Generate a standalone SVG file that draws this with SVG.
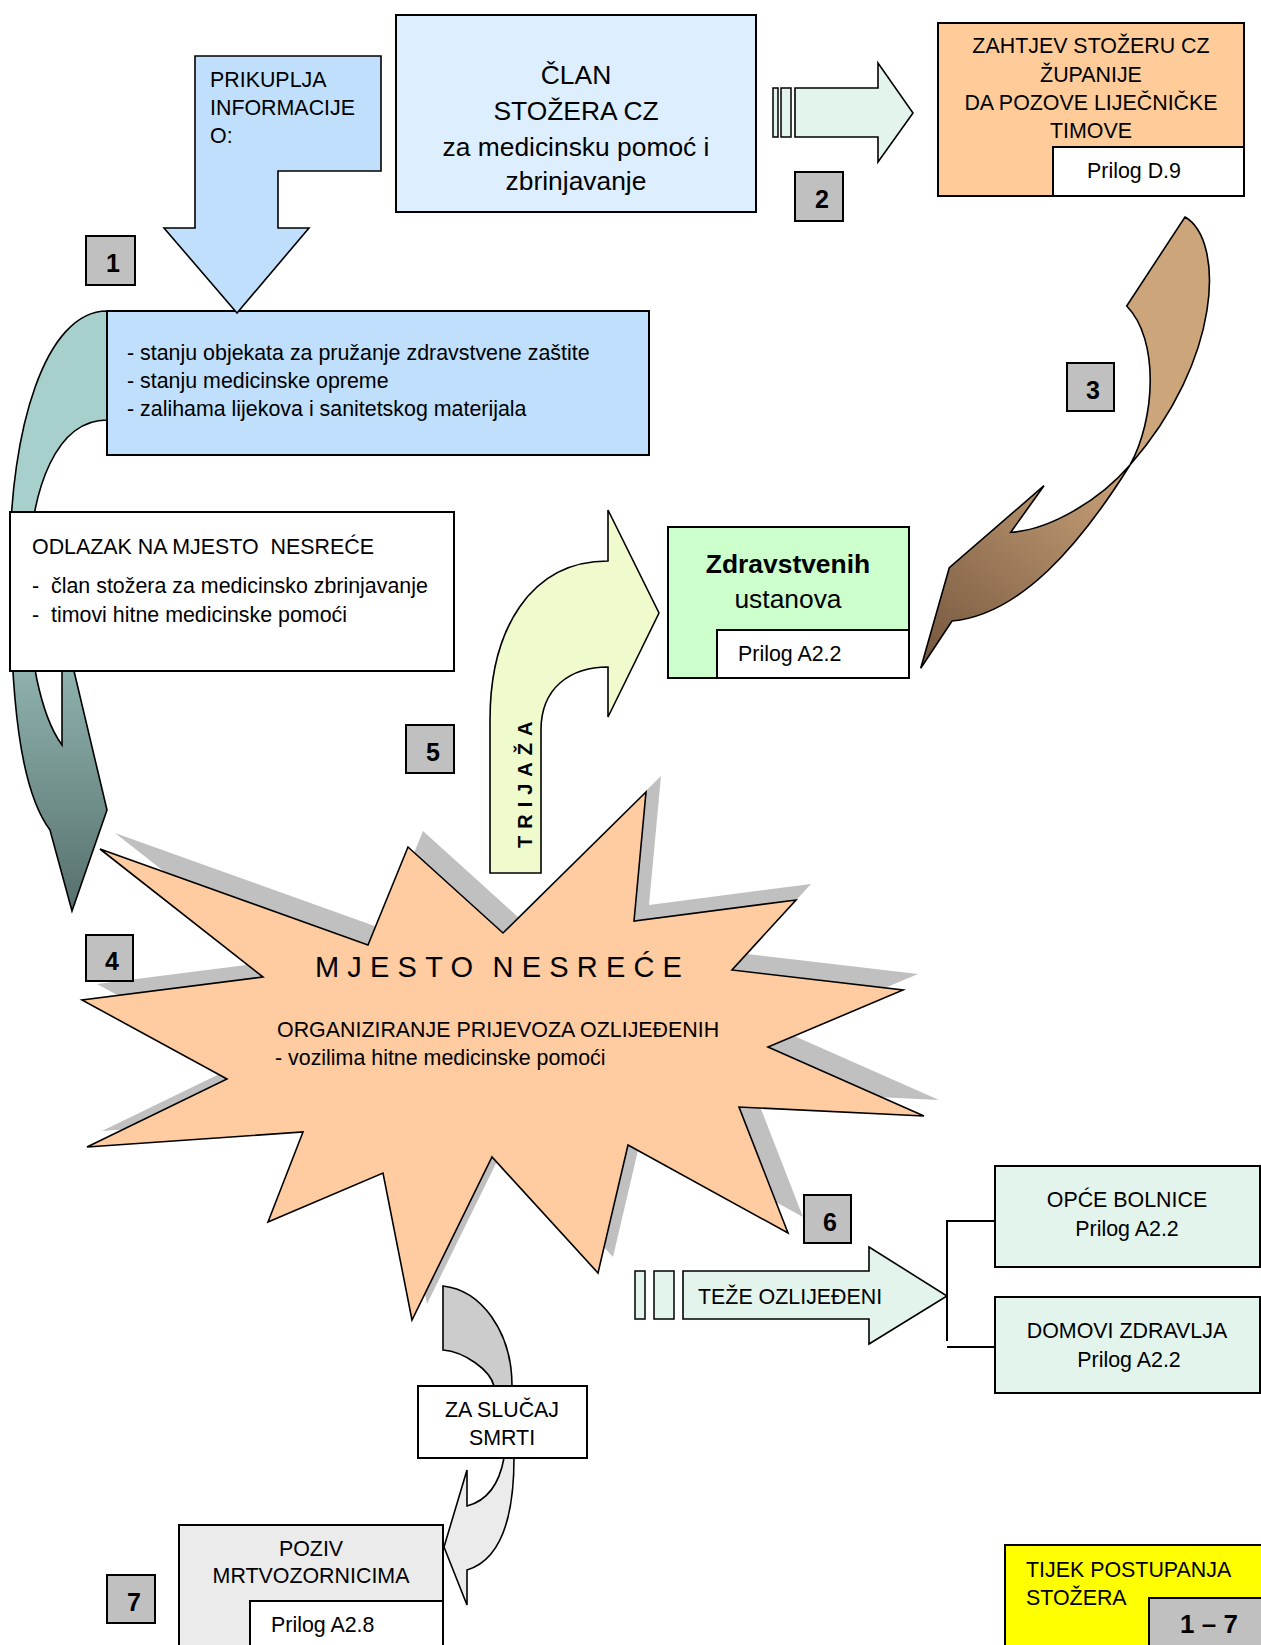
<svg xmlns="http://www.w3.org/2000/svg" width="1261" height="1645" viewBox="0 0 1261 1645">
<style>
text{font-family:"Liberation Sans",Arial,sans-serif;font-size:21.4px;fill:#000}
.c{text-anchor:middle}
.b{font-weight:bold}
.big{font-size:26.4px}
.num{font-weight:bold;font-size:25px;text-anchor:middle}
.bx{stroke:#000;stroke-width:2}
.sh{stroke:#000;stroke-width:1.6;stroke-linejoin:miter}
.nb{fill:#C0C0C0;stroke:#000;stroke-width:2}
.wb{fill:#FFFFFF;stroke:#000;stroke-width:2}
</style>
<defs>
<linearGradient id="teal" x1="0" y1="0" x2="0" y2="1">
<stop offset="0" stop-color="#A7CFCB"/>
<stop offset="0.42" stop-color="#A7CFCB"/>
<stop offset="1" stop-color="#56706C"/>
</linearGradient>
<linearGradient id="brown" gradientUnits="userSpaceOnUse" x1="1110" y1="440" x2="930" y2="665">
<stop offset="0" stop-color="#CDA57B"/>
<stop offset="1" stop-color="#76583F"/>
</linearGradient>
<linearGradient id="grayg" gradientUnits="userSpaceOnUse" x1="0" y1="1386" x2="0" y2="1458">
<stop offset="0" stop-color="#CCCCCC"/>
<stop offset="1" stop-color="#EBEBEB"/>
</linearGradient>
<polygon id="starpts" points="100,849 368,945 408,847 503,933 646,792 634,921 796,900 732,970 903,990 768,1047 924,1116 739,1107 788,1233 628,1145 598,1273 492,1157 412,1320 383,1173 268,1222 303,1132 87,1147 227,1079 82,1000 263,977"/>
</defs>

<g id="node-mjesto">
<use href="#starpts" transform="translate(15,-16)" fill="#C0C0C0"/>
<use href="#starpts" fill="#FFCBA0" stroke="#000" stroke-width="1.6"/>
<text x="315" y="977" style="font-size:29px" letter-spacing="8.2" word-spacing="-5">MJESTO NESREĆE</text>
<text x="277" y="1037">ORGANIZIRANJE PRIJEVOZA OZLIJEĐENIH</text>
<text x="275" y="1065">- vozilima hitne medicinske pomoći</text>
</g>

<g id="connectors">
<path id="conn-teal" class="sh" fill="url(#teal)" d="M107,311 C45,311 10,430 10,560 C10,700 20,790 50,830 L72,911 L107,810 L74,671 L70,640 L62,640 L62,745 C40,715 28,650 28,590 C28,480 60,420 107,420 Z"/>
<path id="conn-brown" class="sh" fill="url(#brown)" d="M1126.7,306 L1185,217 C1225,240 1222,360 1130,465 C1080,545 1020,615 952,621 L920.7,668.3 L949.3,567.7 L1044,485.7 L1010.7,532.3 C1050,530 1100,500 1130,465 C1155,420 1160,340 1126.7,306 Z"/>
<g id="conn-2">
<rect x="773" y="88" width="5" height="49" fill="#E3F4EC" stroke="#000" stroke-width="1.5"/>
<rect x="781" y="88" width="10" height="49" fill="#E3F4EC" stroke="#000" stroke-width="1.5"/>
<path class="sh" fill="#E3F4EC" d="M795,88 L878,88 L878,63 L913,113 L878,162 L878,137 L795,137 Z"/>
</g>
<g id="conn-trijaza">
<path class="sh" fill="#EFFBCC" d="M490,873 L490,720 C490,630 530,561 608,561 L608,510 L659,613 L608,717 L608,667 C570,667 541,688 541,730 L541,873 Z"/>
<text class="b" transform="translate(532,848) rotate(-90)" style="font-size:20px" letter-spacing="7">TRIJAŽA</text>
</g>
<g id="conn-teze">
<rect x="635" y="1271" width="10" height="48" fill="#E3F4EC" stroke="#000" stroke-width="1.5"/>
<rect x="654" y="1271" width="20" height="48" fill="#E3F4EC" stroke="#000" stroke-width="1.5"/>
<path class="sh" fill="#E3F4EC" d="M683,1271 L869,1271 L869,1247 L947,1296 L869,1344 L869,1319 L683,1319 Z"/>
<text x="698" y="1304">TEŽE OZLIJEĐENI</text>
</g>
<path id="conn-bracket" fill="none" stroke="#000" stroke-width="2" d="M995,1221 H947 V1341 M947,1347 H995"/>
<path id="conn-gray" class="sh" fill="url(#grayg)" d="M443,1286 C480,1290 512,1330 512,1386 L514,1458 C514,1520 500,1560 467,1570 L467,1605 L444,1547 L467,1470 L467,1506 C490,1500 500,1480 504,1458 L494,1386 C490,1370 465,1352 443,1350 Z"/>
</g>

<g id="node-info">
<rect class="bx" x="107" y="311" width="542" height="144" fill="#BFDFFD"/>
<text x="127" y="360">- stanju objekata za pružanje zdravstvene zaštite</text>
<text x="127" y="388">- stanju medicinske opreme</text>
<text x="127" y="416">- zalihama lijekova i sanitetskog materijala</text>
</g>

<g id="node-prikuplja">
<path class="sh" fill="#BFDFFD" d="M195,56 L381,56 L381,171 L278,171 L278,228 L309,228 L237,313 L164,228 L195,228 Z"/>
<text x="210" y="87">PRIKUPLJA</text>
<text x="210" y="115">INFORMACIJE</text>
<text x="210" y="143">O:</text>
</g>

<g id="node-clan">
<rect class="bx" x="396" y="15" width="360" height="197" fill="#DDEEFE"/>
<text class="c big" x="576" y="84">ČLAN</text>
<text class="c big" x="576" y="120">STOŽERA CZ</text>
<text class="c big" x="576" y="156">za medicinsku pomoć i</text>
<text class="c big" x="576" y="190">zbrinjavanje</text>
</g>

<g id="node-zahtjev">
<rect class="bx" x="938" y="23" width="306" height="173" fill="#FFCC99"/>
<rect class="wb" x="1053" y="147" width="191" height="49"/>
<text class="c" x="1091" y="53">ZAHTJEV STOŽERU CZ</text>
<text class="c" x="1091" y="82">ŽUPANIJE</text>
<text class="c" x="1091" y="110">DA POZOVE LIJEČNIČKE</text>
<text class="c" x="1091" y="138">TIMOVE</text>
<text x="1087" y="178">Prilog D.9</text>
</g>

<g id="node-odlazak">
<rect class="bx" x="10" y="512" width="444" height="159" fill="#FFFFFF"/>
<text x="32" y="554" xml:space="preserve">ODLAZAK NA MJESTO  NESREĆE</text>
<text x="32" y="593" xml:space="preserve">-  član stožera za medicinsko zbrinjavanje</text>
<text x="32" y="622" xml:space="preserve">-  timovi hitne medicinske pomoći</text>
</g>

<g id="node-zdravstvenih">
<rect class="bx" x="668" y="527" width="241" height="151" fill="#CCFFCC"/>
<rect class="wb" x="717" y="630" width="192" height="48"/>
<text class="c b big" x="788" y="573">Zdravstvenih</text>
<text class="c big" x="788" y="608">ustanova</text>
<text x="738" y="661">Prilog A2.2</text>
</g>

<g id="node-opce">
<rect class="bx" x="995" y="1166" width="265" height="101" fill="#E3F4EC"/>
<text class="c" x="1127" y="1207">OPĆE BOLNICE</text>
<text class="c" x="1127" y="1236">Prilog A2.2</text>
</g>

<g id="node-domovi">
<rect class="bx" x="995" y="1297" width="265" height="96" fill="#E3F4EC"/>
<text class="c" x="1127" y="1338">DOMOVI ZDRAVLJA</text>
<text class="c" x="1129" y="1367">Prilog A2.2</text>
</g>

<g id="node-zaslucaj">
<rect class="bx" x="418" y="1386" width="169" height="72" fill="#FFFFFF"/>
<text class="c" x="502" y="1417">ZA SLUČAJ</text>
<text class="c" x="502" y="1445">SMRTI</text>
</g>

<g id="node-poziv">
<rect class="bx" x="179" y="1525" width="264" height="125" fill="#EBEBEB"/>
<rect class="wb" x="250" y="1601" width="193" height="50"/>
<text class="c" x="311" y="1556">POZIV</text>
<text class="c" x="311" y="1583">MRTVOZORNICIMA</text>
<text x="271" y="1632">Prilog A2.8</text>
</g>

<g id="node-tijek">
<rect class="bx" x="1005" y="1545" width="262" height="105" fill="#FFFF00"/>
<rect class="nb" x="1149" y="1598" width="118" height="52"/>
<text x="1026" y="1577">TIJEK POSTUPANJA</text>
<text x="1026" y="1605">STOŽERA</text>
<text class="c b" x="1209" y="1633" style="font-size:26px">1 – 7</text>
</g>

<g id="node-n1"><rect class="nb" x="86" y="236" width="49" height="49"/><text class="num" x="113" y="272">1</text></g>
<g id="node-n2"><rect class="nb" x="795" y="172" width="48" height="49"/><text class="num" x="822" y="208">2</text></g>
<g id="node-n3"><rect class="nb" x="1067" y="363" width="47" height="48"/><text class="num" x="1093" y="399">3</text></g>
<g id="node-n4"><rect class="nb" x="86" y="935" width="47" height="46"/><text class="num" x="112" y="970">4</text></g>
<g id="node-n5"><rect class="nb" x="406" y="725" width="48" height="48"/><text class="num" x="433" y="761">5</text></g>
<g id="node-n6"><rect class="nb" x="804" y="1195" width="47" height="48"/><text class="num" x="830" y="1231">6</text></g>
<g id="node-n7"><rect class="nb" x="107" y="1575" width="48" height="48"/><text class="num" x="134" y="1611">7</text></g>
</svg>
